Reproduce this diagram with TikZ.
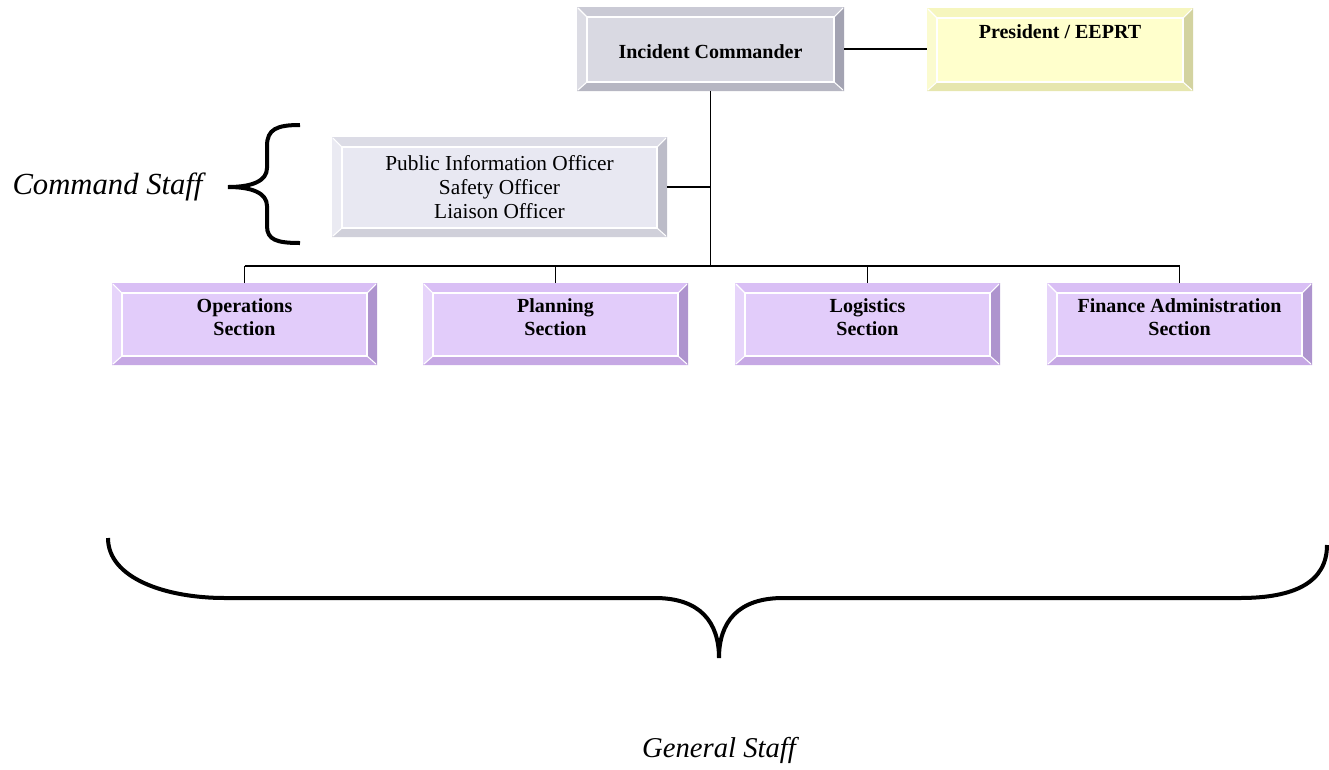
\documentclass[tikz,border=0pt]{standalone}
\usepackage{fontspec}
\setmainfont{Liberation Serif}
\usetikzlibrary{calc}
% colours
\definecolor{icF}{HTML}{D9D9E2}\definecolor{icT}{HTML}{CACAD5}\definecolor{icL}{HTML}{DCDCE4}\definecolor{icR}{HTML}{A3A3B2}\definecolor{icB}{HTML}{B6B6C2}
\definecolor{prF}{HTML}{FFFFCC}\definecolor{prT}{HTML}{F6F6BE}\definecolor{prL}{HTML}{FBFBCF}\definecolor{prR}{HTML}{D3D3A0}\definecolor{prB}{HTML}{E6E6AE}
\definecolor{csF}{HTML}{E8E8F2}\definecolor{csT}{HTML}{DCDCE6}\definecolor{csL}{HTML}{EAEAF2}\definecolor{csR}{HTML}{BCBCC8}\definecolor{csB}{HTML}{D0D0DA}
\definecolor{seF}{HTML}{E2CCFA}\definecolor{seT}{HTML}{D9BFF5}\definecolor{seL}{HTML}{E6D4FA}\definecolor{seR}{HTML}{AE94CE}\definecolor{seB}{HTML}{C6A8E4}
\tikzset{
  conn/.style={line width=1.25pt, black},
  bracestyle/.style={line width=3pt, black, line cap=butt},
  boxnode/.style={inner sep=0pt, outer sep=0pt},
  boldtxt/.style={font=\fontsize{15}{17.25}\selectfont\bfseries, align=center, inner sep=0pt},
  plaintxt/.style={font=\fontsize{16}{18}\selectfont, align=center, inner sep=0pt},
}
% #1 name, #2 x1, #3 y1, #4 x2, #5 y2, #6 colour prefix
\newcommand\bevbox[6]{%
  \fill[#6T] (#2,#3) -- (#4,#3) -- (#4-10,#3+10) -- (#2+10,#3+10) -- cycle;
  \fill[#6L] (#2,#3) -- (#2+10,#3+10) -- (#2+10,#5-9) -- (#2,#5) -- cycle;
  \fill[#6R] (#4,#3) -- (#4-10,#3+10) -- (#4-10,#5-9) -- (#4,#5) -- cycle;
  \fill[#6B] (#2,#5) -- (#2+10,#5-9) -- (#4-10,#5-9) -- (#4,#5) -- cycle;
  \draw[white, line width=0.8pt] (#2+1,#3+1) -- (#2+10,#3+10) (#4-1,#3+1) -- (#4-10,#3+10)
     (#2+1,#5-1) -- (#2+10,#5-9) (#4-1,#5-1) -- (#4-10,#5-9);
  \filldraw[fill=#6F, draw=white, line width=0.9pt] (#2+10,#3+10) rectangle (#4-10,#5-9);
  \node[boxnode, minimum width={(#4-#2)*0.75pt}, minimum height={(#5-#3)*0.75pt}] (#1) at ({(#2+#4)/2},{(#3+#5)/2}) {};
}
\begin{document}
\begin{tikzpicture}[x=0.75pt, y=-0.75pt]
\useasboundingbox (0,0) rectangle (1329,769);

% boxes
\bevbox{ic}{577}{7}{844}{91}{ic}
\node[boldtxt] (ictext) at (710.5,52) {Incident Commander};
\bevbox{pres}{927}{8}{1193}{91}{pr}
\node[boldtxt] (prestext) at (1060,32) {President / EEPRT};
\bevbox{cs}{332}{137}{667}{237}{cs}
\node[plaintxt] (cstext) at (499.5,187) {Public Information Officer\\Safety Officer\\Liaison Officer};

\bevbox{ops}{112}{283}{377}{365}{se}
\node[boldtxt] (opstext) at (244.5,317) {Operations\\Section};
\bevbox{plan}{423}{283}{688}{365}{se}
\node[boldtxt] (plantext) at (555.5,317) {Planning\\Section};
\bevbox{log}{735}{283}{1000}{365}{se}
\node[boldtxt] (logtext) at (867.5,317) {Logistics\\Section};
\bevbox{fin}{1047}{283}{1312}{365}{se}
\node[boldtxt] (fintext) at (1179.5,317) {Finance Administration\\Section};

% connectors
\coordinate (busL) at (244.5,266);
\coordinate (busR) at (1179.5,266);
\draw[conn] (ic.east) -- (ic.east -| pres.west);
\draw[conn] (ic.south) -- (ic.south |- busL);
\draw[conn] (cs.east) -- (cs.east -| ic.south);
\draw[conn] (busL) -- (busR);
\draw[conn] (ops.north) -- (ops.north |- busL);
\draw[conn] (plan.north) -- (plan.north |- busL);
\draw[conn] (log.north) -- (log.north |- busL);
\draw[conn] (fin.north) -- (fin.north |- busL);

% braces
\draw[bracestyle] (300,125) .. controls (277,125) and (267,129) .. (267,146) -- (267,168)
   .. controls (267,181) and (252,187) .. (228,187)
   .. controls (252,187) and (267,193) .. (267,206) -- (267,226)
   .. controls (267,240) and (277,243) .. (300,243);
\draw[bracestyle] (108,538) .. controls (108,578) and (165,598) .. (225,598) -- (655,598)
   .. controls (700,598) and (719,622) .. (719,658)
   .. controls (719,622) and (738,598) .. (783,598) -- (1240,598)
   .. controls (1295,598) and (1327,582) .. (1327,545);

% labels
\node[font=\fontsize{23}{27}\selectfont\itshape, inner sep=0pt] (cmdstaff) at (107.5,187) {Command Staff};
\node[font=\fontsize{21.5}{25}\selectfont\itshape, inner sep=0pt] (genstaff) at (719,750) {General Staff};
\end{tikzpicture}
\end{document}
